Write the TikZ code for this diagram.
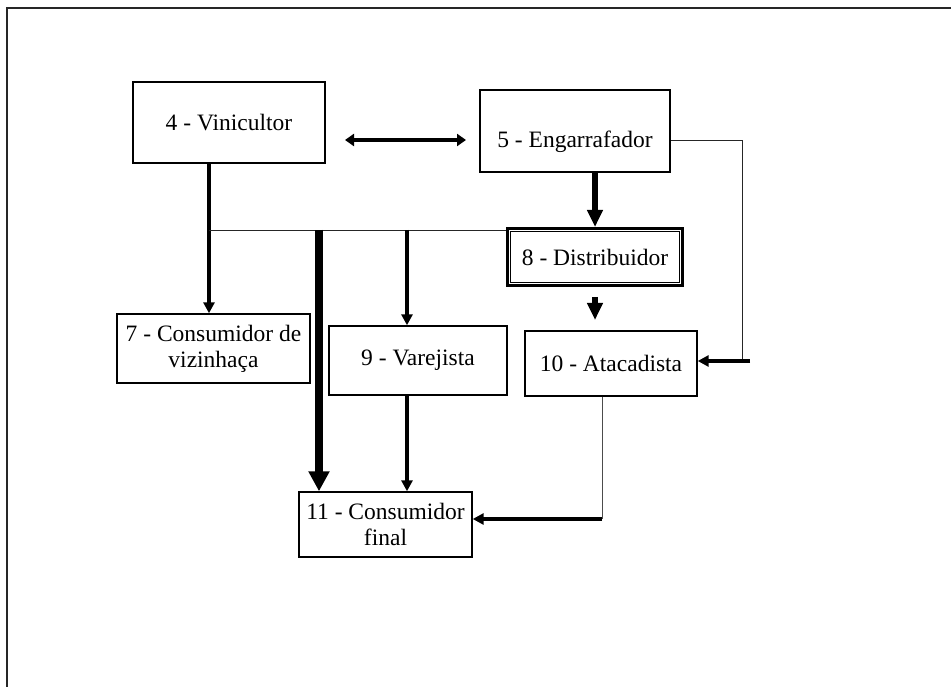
\documentclass[tikz,border=0pt]{standalone}
\usepackage{fontspec}
\setmainfont{Liberation Serif}
\usetikzlibrary{arrows.meta}
\tikzset{
  box/.style={draw=black, line width=1.4pt, fill=white, align=center, inner sep=1pt,
    font=\fontsize{23.5}{26}\selectfont},
  dbox/.style={box, line width=3pt},
  thinln/.style={line width=0.9pt, draw=black!85},
  med/.style={line width=4pt, -{Triangle[width=11pt,length=11pt]}},
  big/.style={line width=6pt, -{Triangle[width=15pt,length=17pt]}},
  huge/.style={line width=8pt, -{Triangle[width=20pt,length=20pt]}},
}
\begin{document}
\begin{tikzpicture}[x=1pt,y=-1pt]
\useasboundingbox (0,0) rectangle (951,687);
% frame (only top and left visible)
\draw[line width=1.6pt, black!85] (951,8) -- (7,8) -- (7,687);

\node[box, minimum width=192pt, minimum height=81pt] (v4) at (229,122.5) {4 - Vinicultor};
\node[box, minimum width=190pt, minimum height=82pt] (e5) at (575,131) {\raisebox{-17pt}[0pt][0pt]{5 - Engarrafador}};
\node[dbox, minimum width=175pt, minimum height=57pt] (d8) at (595,257) {8 - Distribuidor};
\draw[line width=1.1pt] ([shift={(4.4pt,-4.4pt)}]d8.north west) rectangle ([shift={(-4.4pt,4.4pt)}]d8.south east);
\node[box, minimum width=193pt, minimum height=69pt] (c7) at (213.5,348.5) {7 - Consumidor de\\vizinhaça};
\node[box, minimum width=178pt, minimum height=69pt] (r9) at (418,360.5) {9 - Varejista};
\node[box, minimum width=172pt, minimum height=65pt] (a10) at (611,363.5) {10 - Atacadista};
\node[box, minimum width=173pt, minimum height=65pt] (f11) at (385.5,524.5) {11 - Consumidor\\final};

% coordinates
\coordinate (h0) at (209,230);
\coordinate (dl) at (345,140);
\coordinate (dr) at (466,140);
\coordinate (s8) at (595,297);
\coordinate (c5a) at (742,140);
\coordinate (c5b) at (742,361);
\coordinate (c5c) at (750,361);
\coordinate (c10) at (602,519);
\coordinate (xa) at (319,230);
\coordinate (xb) at (407,230);

% double arrow between 4 and 5
\draw[line width=4pt, {Triangle[width=12pt,length=9pt]}-{Triangle[width=12pt,length=9pt]}] (dl) -- (dr);

% 4 -> 7
\draw[med] (v4.south -| h0) -- (c7.north -| h0);
% horizontal distribution line
\draw[thinln] (h0) -- (h0 -| d8.west);
% very thick to 11
\draw[huge] (xa) -- (f11.north -| xa);
% to 9
\draw[med] (xb) -- (r9.north -| xb);
% 5 -> 8
\draw[big] (e5.south -| s8) -- (d8.north -| s8);
% 8 -> 10 (stub)
\draw[big] (s8) -- ++(0,23);
% 5 -> 10 via right
\draw[thinln] (c5a -| e5.east) -- (c5a) -- (c5b);
\draw[med] (c5c) -- (a10.east |- c5c);
% 9 -> 11
\draw[med] (r9.south -| xb) -- (f11.north -| xb);
% 10 -> 11
\draw[thinln, draw=black!70] (a10.south -| c10) -- (c10);
\draw[med] (c10) -- (f11.east |- c10);
\end{tikzpicture}
\end{document}
